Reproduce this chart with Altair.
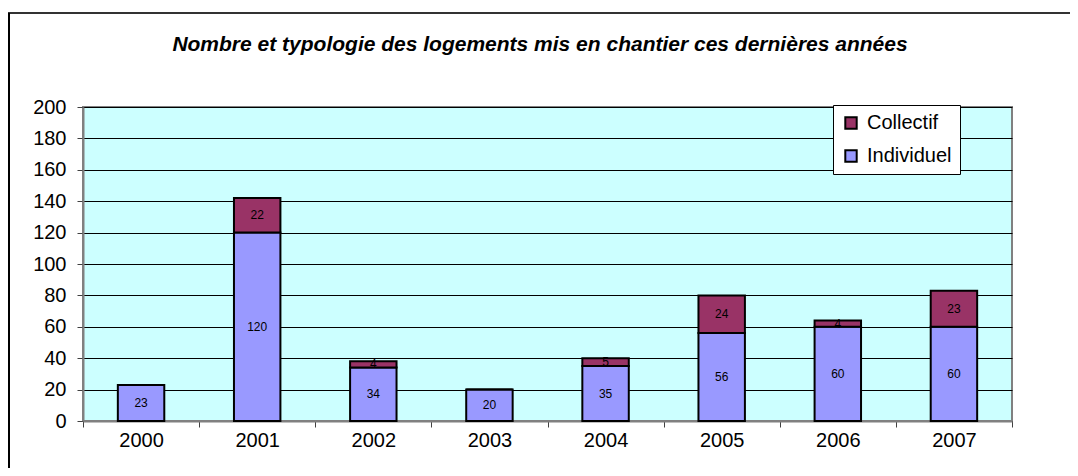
import altair as alt
import pandas as pd

years = ["2000", "2001", "2002", "2003", "2004", "2005", "2006", "2007"]
individuel = [23, 120, 34, 20, 35, 56, 60, 60]
collectif = [0, 22, 4, 0, 5, 24, 4, 23]
series = ["Collectif", "Individuel"]
colors = ["#993366", "#9999FF"]
y_ticks = list(range(0, 201, 20))
title_text = "Nombre et typologie des logements mis en chantier ces dernières années"

rows = []
for i, yr in enumerate(years):
    rows.append({"annee": yr, "type": "Individuel", "valeur": individuel[i], "ordre": 0})
    rows.append({"annee": yr, "type": "Collectif", "valeur": collectif[i], "ordre": 1})
df = pd.DataFrame(rows)

FONT = "Liberation Sans"

base = alt.Chart(df).transform_stack(
    stack="valeur", groupby=["annee"], as_=["y0", "y1"], sort=[alt.SortField("ordre", order="ascending")]
).transform_calculate(
    ymid="(datum.y0 + datum.y1) / 2"
)

x_axis = alt.Axis(
    labelAngle=0, labelFontSize=20, labelFont=FONT, labelColor="black",
    labelPadding=3, tickBand="extent", tickSize=6, tickColor="#404040",
    domainColor="#808080", domainWidth=2, grid=False,
)
y_axis = alt.Axis(
    values=y_ticks, tickCount=20, labelOverlap=False, labelFontSize=20, labelFont=FONT,
    labelColor="black", labelPadding=11, tickSize=6, tickColor="#404040",
    domainColor="#808080", domainWidth=2, grid=True, gridColor="black",
    gridWidth=1,
)
y_scale = alt.Scale(domain=[0, 200], nice=False)
x_scale = alt.Scale(paddingInner=0, paddingOuter=0)

bars = base.mark_bar(width={"band": 0.4}, stroke="black", strokeWidth=2).encode(
    x=alt.X("annee:N", title=None, scale=x_scale, axis=x_axis),
    y=alt.Y("y0:Q", title=None, scale=y_scale, axis=y_axis),
    y2="y1:Q",
    color=alt.Color(
        "type:N",
        scale=alt.Scale(domain=series, range=colors),
        legend=alt.Legend(
            title=None, orient="none", legendX=750, legendY=-2,
            labelFontSize=20, labelFont=FONT, labelColor="black",
            symbolType="square", symbolSize=130, symbolStrokeColor="black",
            symbolStrokeWidth=2, symbolOpacity=1, rowPadding=13,
            padding=8, strokeColor="black", fillColor="white",
            labelOffset=6,
        ),
    ),
)

labels = base.transform_filter("datum.valeur > 0").mark_text(
    fontSize=12, font=FONT, color="black", baseline="middle"
).encode(
    x=alt.X("annee:N", title=None, scale=x_scale, axis=x_axis),
    y=alt.Y("ymid:Q", title=None, scale=y_scale, axis=y_axis),
    text=alt.Text("valeur:Q"),
)

title = alt.Chart(pd.DataFrame({"t": [title_text]})).mark_text(
    fontSize=21, font=FONT, fontStyle="italic", fontWeight="bold", color="black",
    align="center", baseline="middle",
).encode(
    text="t:N", x=alt.value(457), y=alt.value(-62)
)

frame_top = alt.Chart(df).mark_rule(color="#333333", strokeWidth=2).encode(
    x=alt.value(-75), x2=alt.value(1000), y=alt.value(-94)
)
frame_left = alt.Chart(df).mark_rule(color="black", strokeWidth=2).encode(
    x=alt.value(-74), y=alt.value(-94), y2=alt.value(400)
)

chart = alt.layer(bars, labels, title, frame_top, frame_left).properties(
    width=929,
    height=314,
    autosize=alt.AutoSizeParams(type="none"),
    padding={"left": 75, "top": 99, "right": 58, "bottom": 47},
    background="white",
).configure_view(
    fill="#CCFFFF", stroke="#808080", strokeWidth=2
)

chart.save("out.html", embed_options={"renderer": "svg", "actions": False})
